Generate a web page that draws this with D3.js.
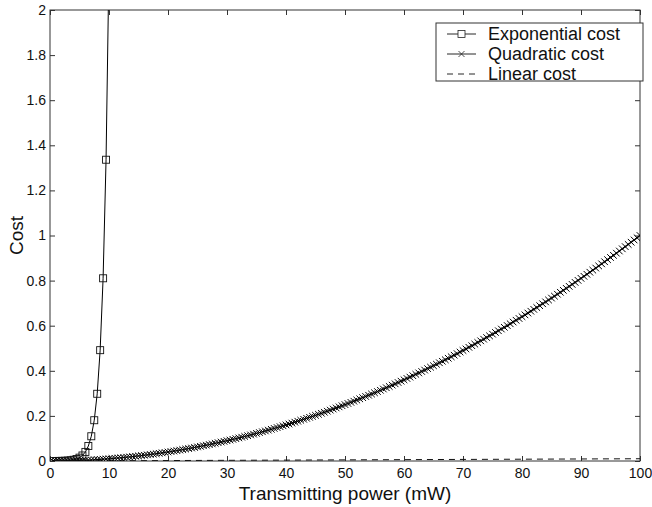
<!DOCTYPE html>
<html>
<head>
<meta charset="utf-8">
<script src="https://cdn.jsdelivr.net/npm/d3@7"></script>
<style>
  body { margin: 0; background: #fff; }
  svg { font-family: "Liberation Sans", Arial, Helvetica, sans-serif; }
</style>
</head>
<body>
<div id="main"><svg width="652" height="507"></svg></div>
<script>
// Exponential cost samples (x in mW, cost)
var expX = [0.5, 1, 1.5, 2, 2.5, 3, 3.5, 4, 4.5, 5, 5.5, 6, 6.5, 7, 7.5, 8, 8.5, 9, 9.5, 10];
var expY = [0.00016, 0.00027, 0.00045, 0.00074, 0.0012, 0.0020, 0.0033, 0.0055, 0.0090, 0.0148,
            0.0245, 0.0403, 0.0665, 0.1097, 0.1808, 0.2981, 0.4915, 0.8103, 1.3360, 2.2026];

// Quadratic cost samples, every 0.5 mW
var quadX = [0.5, 1, 1.5, 2, 2.5, 3, 3.5, 4, 4.5, 5, 5.5, 6, 6.5, 7, 7.5, 8, 8.5, 9, 9.5, 10,
  10.5, 11, 11.5, 12, 12.5, 13, 13.5, 14, 14.5, 15, 15.5, 16, 16.5, 17, 17.5, 18, 18.5, 19, 19.5, 20,
  20.5, 21, 21.5, 22, 22.5, 23, 23.5, 24, 24.5, 25, 25.5, 26, 26.5, 27, 27.5, 28, 28.5, 29, 29.5, 30,
  30.5, 31, 31.5, 32, 32.5, 33, 33.5, 34, 34.5, 35, 35.5, 36, 36.5, 37, 37.5, 38, 38.5, 39, 39.5, 40,
  40.5, 41, 41.5, 42, 42.5, 43, 43.5, 44, 44.5, 45, 45.5, 46, 46.5, 47, 47.5, 48, 48.5, 49, 49.5, 50,
  50.5, 51, 51.5, 52, 52.5, 53, 53.5, 54, 54.5, 55, 55.5, 56, 56.5, 57, 57.5, 58, 58.5, 59, 59.5, 60,
  60.5, 61, 61.5, 62, 62.5, 63, 63.5, 64, 64.5, 65, 65.5, 66, 66.5, 67, 67.5, 68, 68.5, 69, 69.5, 70,
  70.5, 71, 71.5, 72, 72.5, 73, 73.5, 74, 74.5, 75, 75.5, 76, 76.5, 77, 77.5, 78, 78.5, 79, 79.5, 80,
  80.5, 81, 81.5, 82, 82.5, 83, 83.5, 84, 84.5, 85, 85.5, 86, 86.5, 87, 87.5, 88, 88.5, 89, 89.5, 90,
  90.5, 91, 91.5, 92, 92.5, 93, 93.5, 94, 94.5, 95, 95.5, 96, 96.5, 97, 97.5, 98, 98.5, 99, 99.5, 100];
var quadY = [0.0000, 0.0001, 0.0002, 0.0004, 0.0006, 0.0009, 0.0012, 0.0016, 0.0020, 0.0025,
  0.0030, 0.0036, 0.0042, 0.0049, 0.0056, 0.0064, 0.0072, 0.0081, 0.0090, 0.0100,
  0.0110, 0.0121, 0.0132, 0.0144, 0.0156, 0.0169, 0.0182, 0.0196, 0.0210, 0.0225,
  0.0240, 0.0256, 0.0272, 0.0289, 0.0306, 0.0324, 0.0342, 0.0361, 0.0380, 0.0400,
  0.0420, 0.0441, 0.0462, 0.0484, 0.0506, 0.0529, 0.0552, 0.0576, 0.0600, 0.0625,
  0.0650, 0.0676, 0.0702, 0.0729, 0.0756, 0.0784, 0.0812, 0.0841, 0.0870, 0.0900,
  0.0930, 0.0961, 0.0992, 0.1024, 0.1056, 0.1089, 0.1122, 0.1156, 0.1190, 0.1225,
  0.1260, 0.1296, 0.1332, 0.1369, 0.1406, 0.1444, 0.1482, 0.1521, 0.1560, 0.1600,
  0.1640, 0.1681, 0.1722, 0.1764, 0.1806, 0.1849, 0.1892, 0.1936, 0.1980, 0.2025,
  0.2070, 0.2116, 0.2162, 0.2209, 0.2256, 0.2304, 0.2352, 0.2401, 0.2450, 0.2500,
  0.2550, 0.2601, 0.2652, 0.2704, 0.2756, 0.2809, 0.2862, 0.2916, 0.2970, 0.3025,
  0.3080, 0.3136, 0.3192, 0.3249, 0.3306, 0.3364, 0.3422, 0.3481, 0.3540, 0.3600,
  0.3660, 0.3721, 0.3782, 0.3844, 0.3906, 0.3969, 0.4032, 0.4096, 0.4160, 0.4225,
  0.4290, 0.4356, 0.4422, 0.4489, 0.4556, 0.4624, 0.4692, 0.4761, 0.4830, 0.4900,
  0.4970, 0.5041, 0.5112, 0.5184, 0.5256, 0.5329, 0.5402, 0.5476, 0.5550, 0.5625,
  0.5700, 0.5776, 0.5852, 0.5929, 0.6006, 0.6084, 0.6162, 0.6241, 0.6320, 0.6400,
  0.6480, 0.6561, 0.6642, 0.6724, 0.6806, 0.6889, 0.6972, 0.7056, 0.7140, 0.7225,
  0.7310, 0.7396, 0.7482, 0.7569, 0.7656, 0.7744, 0.7832, 0.7921, 0.8010, 0.8100,
  0.8190, 0.8281, 0.8372, 0.8464, 0.8556, 0.8649, 0.8742, 0.8836, 0.8930, 0.9025,
  0.9120, 0.9216, 0.9312, 0.9409, 0.9506, 0.9604, 0.9702, 0.9801, 0.9900, 1.0000];

// Linear cost (straight dashed line)
var linX = [0.5, 100];
var linY = [0.00005, 0.01];

var xTicks = [0, 10, 20, 30, 40, 50, 60, 70, 80, 90, 100];
var yTicks = [0, 0.2, 0.4, 0.6, 0.8, 1, 1.2, 1.4, 1.6, 1.8, 2];
var legendNames = ["Exponential cost", "Quadratic cost", "Linear cost"];

var svg = d3.select("#main").select("svg");
var margin = {top: 10, left: 50, bottom: 46, right: 12};
var width = +svg.attr("width") - margin.left - margin.right;
var height = +svg.attr("height") - margin.top - margin.bottom;

var g = svg.append("g").attr("transform", "translate(" + margin.left + "," + margin.top + ")");

var xScale = d3.scaleLinear().domain([0, 100]).range([0, width]);
var yScale = d3.scaleLinear().domain([0, 2]).range([height, 0]);

svg.append("defs").append("clipPath").attr("id", "plotclip")
  .append("rect").attr("x", 0).attr("y", 0).attr("width", width).attr("height", height);

// axes with inward ticks on all four sides
var axisColor = "#333";
function styleAxis(sel) {
  sel.select(".domain").remove();
  sel.selectAll(".tick line").attr("stroke", axisColor);
  sel.selectAll(".tick text").attr("fill", "#111").style("font-size", "14px");
}
g.append("g").attr("transform", "translate(0," + height + ")")
  .call(d3.axisBottom(xScale).tickValues(xTicks).tickSize(-5).tickPadding(7).tickFormat(d3.format("d")))
  .call(styleAxis);
g.append("g")
  .call(d3.axisLeft(yScale).tickValues(yTicks).tickSize(-5).tickPadding(4).tickFormat(function(d) { return String(+d.toFixed(1)); }))
  .call(styleAxis);
g.append("g")
  .call(d3.axisTop(xScale).tickValues(xTicks).tickSize(-5).tickFormat(""))
  .call(styleAxis);
g.append("g").attr("transform", "translate(" + width + ",0)")
  .call(d3.axisRight(yScale).tickValues(yTicks).tickSize(-5).tickFormat(""))
  .call(styleAxis);
g.append("rect").attr("width", width).attr("height", height)
  .attr("fill", "none").attr("stroke", axisColor).attr("stroke-width", 1);

// series
var plot = g.append("g").attr("clip-path", "url(#plotclip)");
function pairs(xs, ys) { return xs.map(function(x, i) { return [x, ys[i]]; }); }
var line = d3.line().x(function(d) { return xScale(d[0]); }).y(function(d) { return yScale(d[1]); });

plot.append("path").datum(pairs(linX, linY)).attr("d", line)
  .attr("fill", "none").attr("stroke", "#111").attr("stroke-width", 1).attr("stroke-dasharray", "6,5");

plot.append("path").datum(pairs(quadX, quadY)).attr("d", line)
  .attr("fill", "none").attr("stroke", "#000").attr("stroke-width", 1);
plot.selectAll(".xmark").data(pairs(quadX, quadY)).enter().append("path")
  .attr("class", "xmark")
  .attr("transform", function(d) { return "translate(" + xScale(d[0]) + "," + yScale(d[1]) + ")"; })
  .attr("d", "M-3.3,-3.3L3.3,3.3M-3.3,3.3L3.3,-3.3")
  .attr("stroke", "#000").attr("stroke-width", 1);

plot.append("path").datum(pairs(expX, expY)).attr("d", line)
  .attr("fill", "none").attr("stroke", "#000").attr("stroke-width", 1);
plot.selectAll(".sqmark").data(pairs(expX, expY)).enter().append("rect")
  .attr("class", "sqmark")
  .attr("x", function(d) { return xScale(d[0]) - 3.5; })
  .attr("y", function(d) { return yScale(d[1]) - 3.5; })
  .attr("width", 7).attr("height", 7)
  .attr("fill", "none").attr("stroke", "#111").attr("stroke-width", 0.9);

// axis titles
svg.append("text").attr("x", margin.left + width / 2).attr("y", 500)
  .attr("text-anchor", "middle").style("font-size", "19px").attr("fill", "#111")
  .text("Transmitting power (mW)");
svg.append("text")
  .attr("transform", "translate(23," + (margin.top + height / 2) + ") rotate(-90)")
  .attr("text-anchor", "middle").style("font-size", "19px").attr("fill", "#111")
  .text("Cost");

// legend
var legend = svg.append("g").attr("transform", "translate(436,23)");
legend.append("rect").attr("width", 207).attr("height", 58)
  .attr("fill", "#fff").attr("stroke", axisColor).attr("stroke-width", 1);
legendNames.forEach(function(name, i) {
  var yy = 11 + i * 20;
  var item = legend.append("g").attr("transform", "translate(0," + yy + ")");
  var ln = item.append("line").attr("x1", 11).attr("x2", 40).attr("y1", 0).attr("y2", 0)
    .attr("stroke", "#111").attr("stroke-width", 0.9);
  if (i === 0) {
    item.append("rect").attr("x", 22).attr("y", -3.5).attr("width", 7).attr("height", 7)
      .attr("fill", "#fff").attr("stroke", "#222").attr("stroke-width", 0.8);
  } else if (i === 1) {
    item.append("path").attr("transform", "translate(25.5,0)").attr("d", "M-3,-3L3,3M-3,3L3,-3")
      .attr("stroke", "#222").attr("stroke-width", 0.8);
  } else {
    ln.attr("stroke-dasharray", "6,5");
  }
  item.append("text").attr("x", 52).attr("y", 6).style("font-size", "18px").attr("fill", "#111").text(name);
});
</script>
</body>
</html>
